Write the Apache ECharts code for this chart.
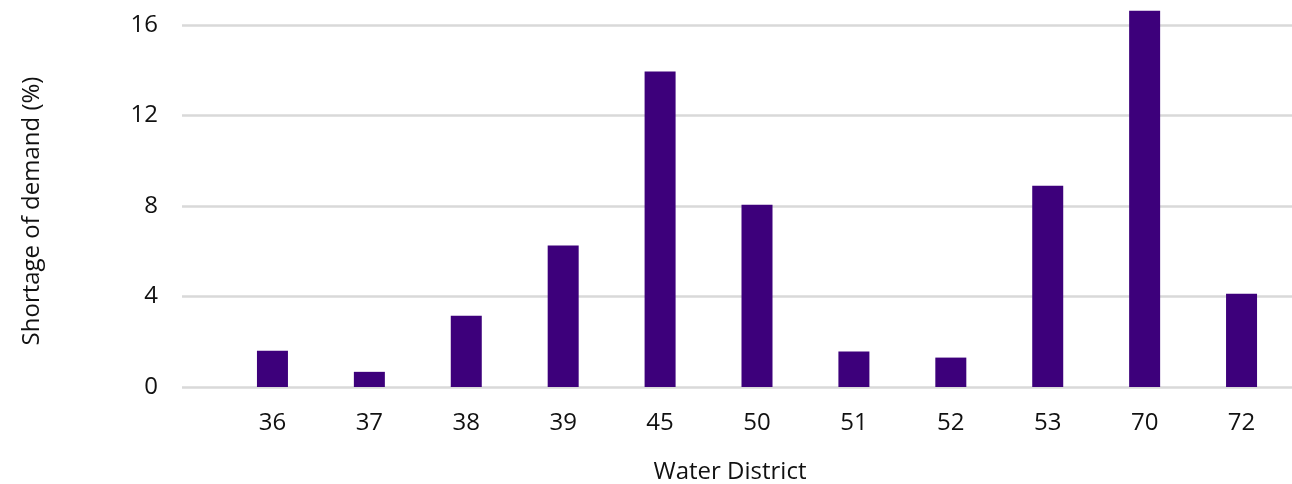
<!DOCTYPE html>
<html>
<head>
<meta charset="utf-8">
<script src="https://cdn.jsdelivr.net/npm/echarts@6/dist/echarts.min.js"></script>
<style>
  html, body { margin: 0; padding: 0; background: #ffffff; }
  #chart { width: 1292px; height: 484px; }
</style>
</head>
<body>
<div id="chart"></div>
<script>
// Water districts and their shortage of demand, in percent
const districts = ['36', '37', '38', '39', '45', '50', '51', '52', '53', '70', '72'];
const shortage = [1.6, 0.67, 3.15, 6.25, 13.95, 8.05, 1.57, 1.3, 8.9, 16.63, 4.12];
const yTicks = [0, 4, 8, 12, 16];

const FONT = '"Open Sans", Lato, sans-serif';
const TEXT = '#111111';
const BAR = '#3d007b';
const GRID_LINE = '#d9d9d9';

const chart = echarts.init(document.getElementById('chart'), null, { renderer: 'canvas' });

const yMin = yTicks[0];
const yMax = yTicks[yTicks.length - 1];
const yStep = yTicks[1] - yTicks[0];

chart.setOption({
  animation: false,
  backgroundColor: '#ffffff',
  textStyle: { fontFamily: FONT },
  grid: [
    // gridlines and value labels span the wider area
    { left: 182, right: 0, top: 25, bottom: 97, containLabel: false },
    // the bars sit in a slightly narrower band
    { left: 224, right: 2, top: 25, bottom: 97, containLabel: false }
  ],
  xAxis: [
    {
      gridIndex: 0, type: 'category', data: districts, show: false
    },
    {
      gridIndex: 1, type: 'category', data: districts,
      axisLine: { show: false }, axisTick: { show: false },
      axisLabel: { color: TEXT, fontSize: 24, fontFamily: FONT, margin: 24 }
    }
  ],
  yAxis: [
    {
      gridIndex: 0, type: 'value', min: yMin, max: yMax, interval: yStep,
      axisLine: { show: false }, axisTick: { show: false },
      axisLabel: { color: TEXT, fontSize: 24, fontFamily: FONT, margin: 24 },
      splitLine: { show: true, lineStyle: { color: GRID_LINE, width: 2.5 } }
    },
    {
      gridIndex: 1, type: 'value', min: yMin, max: yMax, interval: yStep,
      show: false, splitLine: { show: false }
    }
  ],
  series: [
    {
      type: 'bar', xAxisIndex: 1, yAxisIndex: 1,
      data: shortage, barWidth: 31, clip: false,
      itemStyle: { color: BAR }
    }
  ],
  graphic: [
    {
      type: 'text', x: 730, y: 472,
      style: {
        text: 'Water District', fill: TEXT, fontSize: 24, fontFamily: FONT,
        align: 'center', verticalAlign: 'middle'
      }
    },
    {
      type: 'text', x: 32, y: 211, rotation: Math.PI / 2,
      style: {
        text: 'Shortage of demand (%)', fill: TEXT, fontSize: 24, fontFamily: FONT,
        align: 'center', verticalAlign: 'middle'
      }
    }
  ]
});
</script>
</body>
</html>
